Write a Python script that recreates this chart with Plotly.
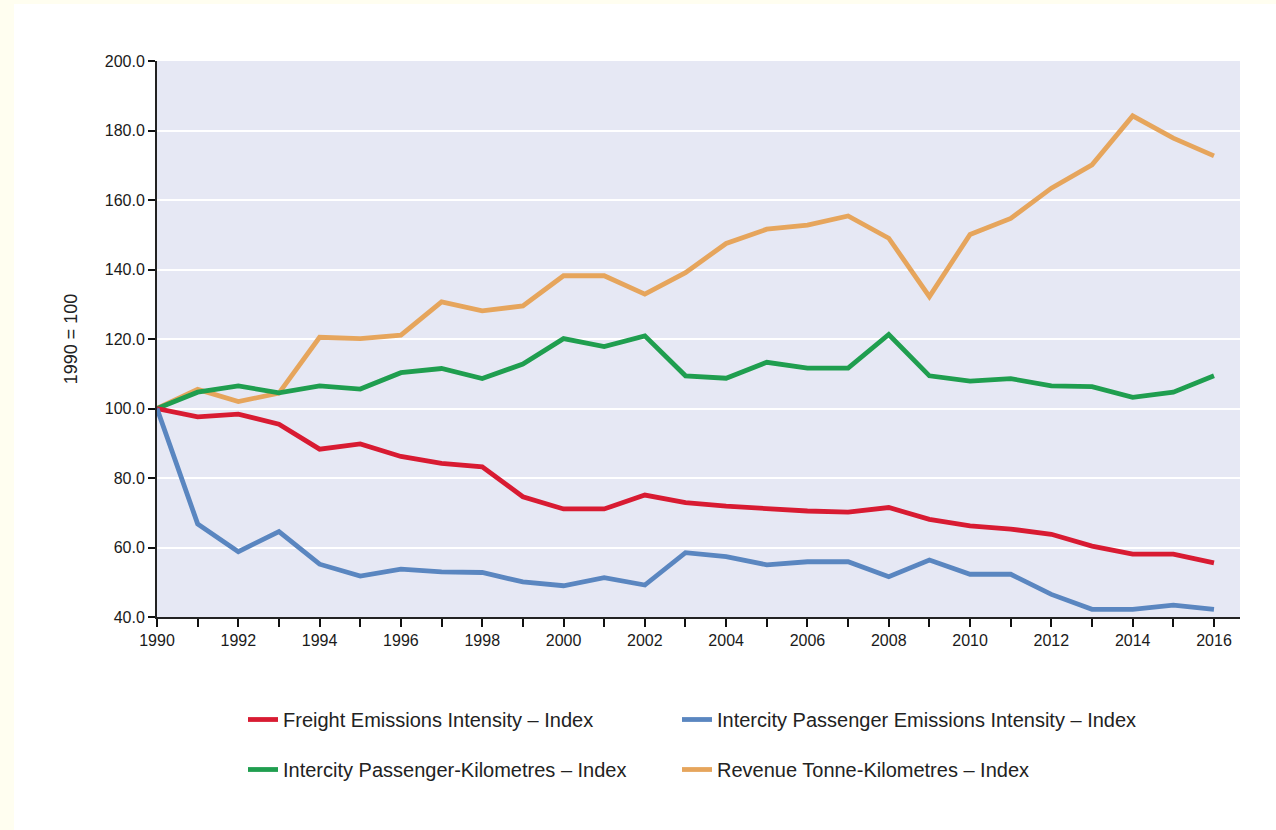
import plotly.graph_objects as go

years = list(range(1990, 2017))

freight_intensity = [100.0, 97.6, 98.4, 95.5, 88.3, 89.8, 86.2, 84.2, 83.2, 74.6, 71.1, 71.1, 75.1,
                     72.9, 71.9, 71.2, 70.5, 70.2, 71.5, 68.1, 66.2, 65.3, 63.8, 60.4, 58.1, 58.1, 55.6]
passenger_intensity = [100.0, 66.8, 58.8, 64.6, 55.2, 51.8, 53.8, 53.0, 52.8, 50.1, 49.0, 51.3, 49.2,
                       58.5, 57.4, 55.0, 55.9, 55.9, 51.6, 56.4, 52.3, 52.3, 46.5, 42.2, 42.2, 43.4, 42.2]
passenger_km = [100.0, 104.7, 106.5, 104.5, 106.5, 105.6, 110.3, 111.5, 108.6, 112.8, 120.1, 117.8, 120.9,
                109.4, 108.7, 113.3, 111.6, 111.6, 121.3, 109.4, 107.9, 108.6, 106.5, 106.3, 103.2, 104.7, 109.4]
tonne_km = [100.0, 105.5, 102.0, 104.4, 120.5, 120.1, 121.1, 130.7, 128.1, 129.5, 138.2, 138.2, 132.9,
            139.1, 147.5, 151.6, 152.8, 155.4, 149.0, 132.2, 150.1, 154.7, 163.4, 170.1, 184.2, 177.8, 172.7]

names = ["Freight Emissions Intensity – Index",
         "Intercity Passenger Emissions Intensity – Index",
         "Intercity Passenger-Kilometres – Index",
         "Revenue Tonne-Kilometres – Index"]
colors = ["#d81b32", "#5a86c0", "#1f9e4f", "#e6a55c"]
series = [freight_intensity, passenger_intensity, passenger_km, tonne_km]
legend_ids = ["legend", "legend2", "legend3", "legend4"]
order = [3, 2, 0, 1]

fig = go.Figure()
for i in order:
    fig.add_trace(go.Scatter(x=years, y=series[i], mode="lines", name=names[i],
                             line=dict(color=colors[i], width=4.8),
                             legend=legend_ids[i]))

W, H = 1276, 830
L, R, T, B = 157, 36, 61, 213
pw = W - L - R
ph = H - T - B

def px_x(p):
    return (p - L) / pw

def px_y(p):
    return (H - B - p) / ph

font = "Liberation Sans, Arial, Helvetica, sans-serif"
legfont = dict(size=20, color="#222222")

def leg(xp, yp):
    return dict(orientation="h", x=px_x(xp), y=px_y(yp), xanchor="left", yanchor="top",
                font=legfont, bgcolor="rgba(0,0,0,0)")

fig.update_layout(
    width=W, height=H,
    margin=dict(l=L, r=R, t=T, b=B),
    paper_bgcolor="#ffffff",
    plot_bgcolor="#e6e8f4",
    font=dict(family=font, size=16, color="#1a1a1a"),
    showlegend=True,
    legend=leg(243, 700),
    legend2=leg(677, 700),
    legend3=leg(243, 750),
    legend4=leg(677, 750),
    xaxis=dict(range=[1990, 2016.64], tickmode="linear", tick0=1990, dtick=2,
               ticks="outside", ticklen=8, tickwidth=1.5, tickcolor="#111111",
               showline=True, linecolor="#222222", linewidth=2,
               showgrid=False, zeroline=False,
               minor=dict(dtick=1, ticks="outside", ticklen=8, tickwidth=1.5, tickcolor="#111111", showgrid=False),
               tickfont=dict(size=16, color="#1a1a1a")),
    yaxis=dict(range=[40, 200], tickmode="linear", tick0=40, dtick=20, tickformat=".1f",
               ticks="outside", ticklen=7, tickwidth=1.5, tickcolor="#111111",
               showline=True, linecolor="#222222", linewidth=2,
               showgrid=True, gridcolor="#ffffff", gridwidth=1.5, zeroline=False,
               tickfont=dict(size=16, color="#1a1a1a"),
               title=dict(text="1990 = 100", standoff=22, font=dict(size=18, color="#222222"))),
    shapes=[
        dict(type="rect", xref="paper", yref="paper", x0=px_x(0), x1=px_x(14), y0=px_y(H), y1=px_y(0),
             fillcolor="#fffef0", line=dict(width=0), layer="above"),
        dict(type="rect", xref="paper", yref="paper", x0=px_x(0), x1=px_x(W), y0=px_y(4), y1=px_y(0),
             fillcolor="#fffef0", line=dict(width=0), layer="above"),
    ],
)

fig.write_html("out.html", config={"displayModeBar": False},
               post_script="document.body.style.margin='0';")
